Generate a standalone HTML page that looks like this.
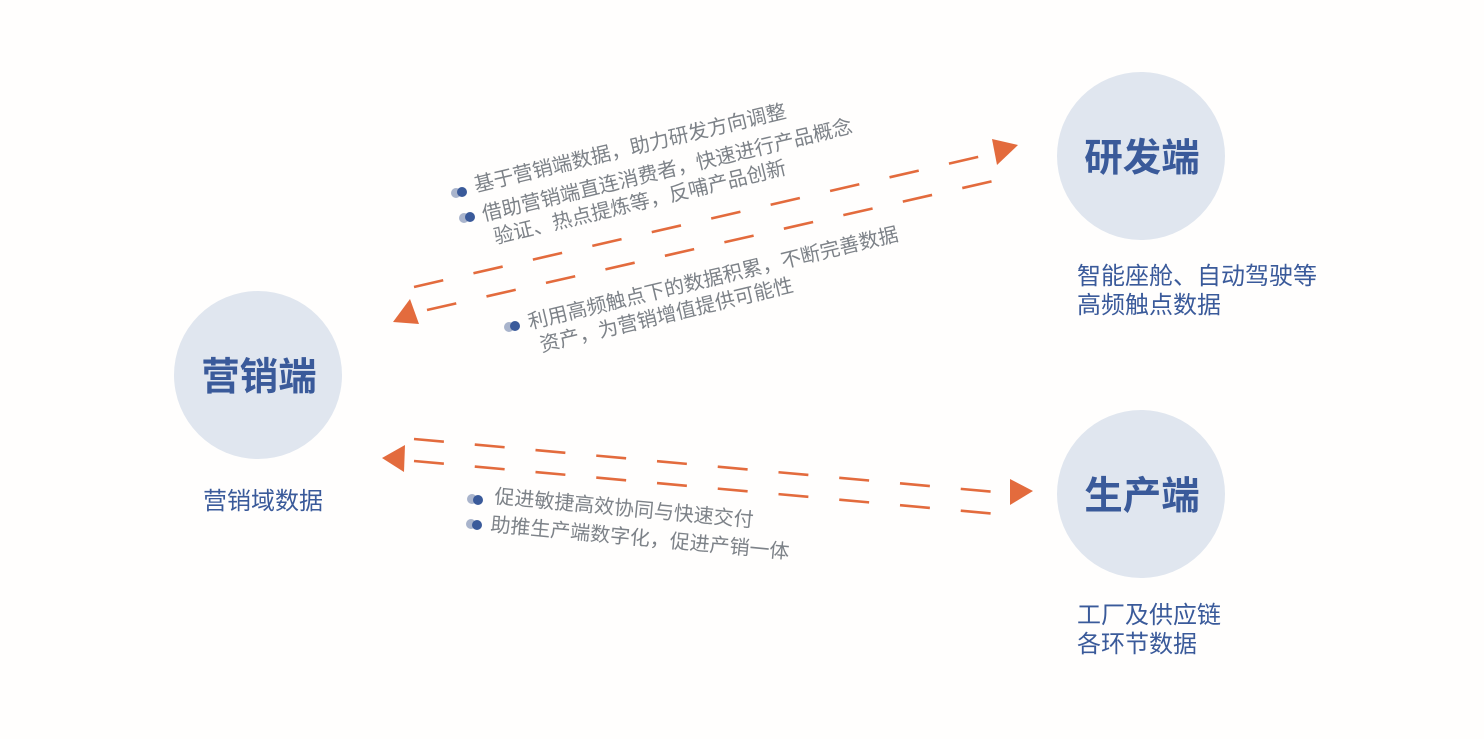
<!DOCTYPE html>
<html><head><meta charset="utf-8">
<style>
html,body{margin:0;padding:0;background:#fffefd;}
svg{display:block;}
text{font-family:"Liberation Sans","Noto Sans CJK SC",sans-serif;}
</style></head>
<body>
<svg width="1484" height="739" viewBox="0 0 1484 739" xmlns="http://www.w3.org/2000/svg">
<rect width="1484" height="739" fill="#fffefd"/>
<circle cx="258" cy="375" r="84" fill="#e0e6ef"/>
<circle cx="1141" cy="156" r="84" fill="#e0e6ef"/>
<circle cx="1141" cy="494" r="84" fill="#e0e6ef"/>
<g fill="#3a5a9a" font-size="38.5" font-weight="bold" text-anchor="middle">
<text x="259" y="390">营销端</text>
<text x="1142" y="171">研发端</text>
<text x="1142" y="509">生产端</text>
</g>
<g fill="#3a5a9a" font-size="24">
<text x="203" y="509">营销域数据</text>
<text x="1077" y="284">智能座舱、自动驾驶等</text>
<text x="1077" y="313">高频触点数据</text>
<text x="1077" y="623">工厂及供应链</text>
<text x="1077" y="652">各环节数据</text>
</g>
<g stroke="#e36b3d" stroke-width="2.6" stroke-dasharray="30 31" fill="none">
<line x1="414" y1="287" x2="995" y2="153"/>
<line x1="427" y1="310" x2="1002" y2="179"/>
</g>
<polygon points="1018,145 992,139 997,165" fill="#e36b3d"/>
<polygon points="393,322 410,299 419,324" fill="#e36b3d"/>
<g stroke="#e36b3d" stroke-width="2.6" stroke-dasharray="30 31" fill="none">
<line x1="414" y1="439" x2="1006" y2="493"/>
<line x1="414" y1="461" x2="1008" y2="515"/>
</g>
<polygon points="382,458 405,445 404,472" fill="#e36b3d"/>
<polygon points="1033,491 1010,479 1010,505" fill="#e36b3d"/>
<g fill="#7d8288" font-size="20">
<g transform="translate(476,192) rotate(-13.5)">
<text x="0" y="0">基于营销端数据，助力研发方向调整</text>
</g>
<g transform="translate(484,221) rotate(-13.5)">
<text x="0" y="0">借助营销端直连消费者，快速进行产品概念</text>
<text x="6" y="25">验证、热点提炼等，反哺产品创新</text>
</g>
<g transform="translate(530,329) rotate(-13.5)">
<text x="0" y="0">利用高频触点下的数据积累，不断完善数据</text>
<text x="6" y="25">资产，为营销增值提供可能性</text>
</g>
<g transform="translate(494,503) rotate(5.3)">
<text x="0" y="0">促进敏捷高效协同与快速交付</text>
</g>
<g transform="translate(490,531) rotate(5.3)">
<text x="0" y="0">助推生产端数字化，促进产销一体</text>
</g>
</g>
<g>
<circle cx="456" cy="193" r="5" fill="#a9b4cc"/><circle cx="462" cy="192" r="5" fill="#3a5a9a"/>
<circle cx="464" cy="218" r="5" fill="#a9b4cc"/><circle cx="470" cy="217" r="5" fill="#3a5a9a"/>
<circle cx="509" cy="327" r="5" fill="#a9b4cc"/><circle cx="515" cy="326" r="5" fill="#3a5a9a"/>
<circle cx="472" cy="499" r="5" fill="#a9b4cc"/><circle cx="478" cy="500" r="5" fill="#3a5a9a"/>
<circle cx="471" cy="524" r="5" fill="#a9b4cc"/><circle cx="477" cy="525" r="5" fill="#3a5a9a"/>
</g>
</svg>
</body></html>
